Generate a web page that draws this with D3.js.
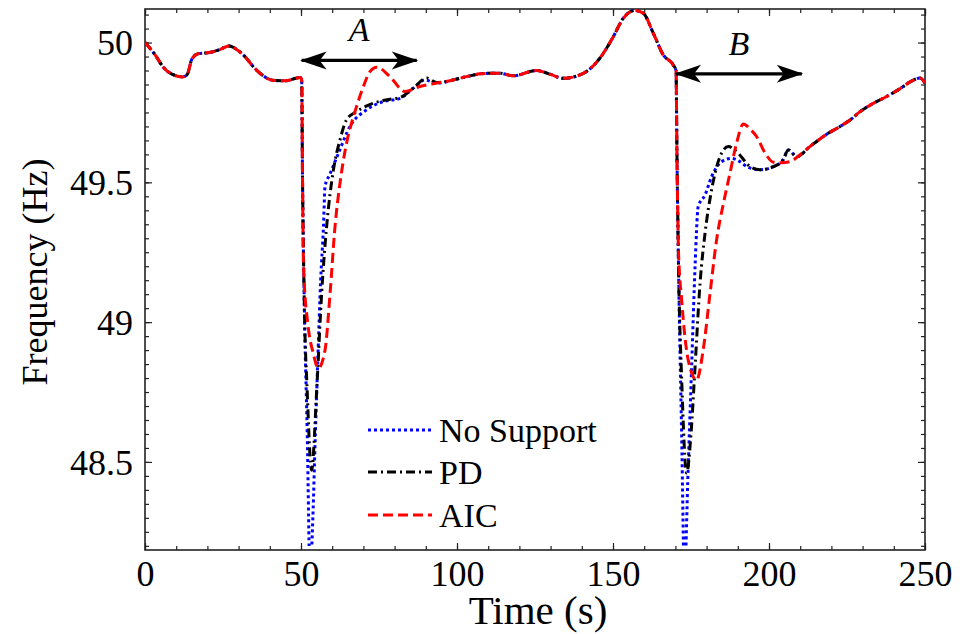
<!DOCTYPE html>
<html>
<head>
<meta charset="utf-8">
<script src="https://cdn.jsdelivr.net/npm/d3@7"></script>
<style>
  html, body { margin: 0; padding: 0; background: #fff; }
  svg text { font-family: "Liberation Serif", "Times New Roman", Times, serif !important; fill: #000; }
</style>
</head>
<body>
<div id="chart"></div>
<script>
// time (s), frequency (Hz)
const commonStart = [
  [0, 50.0], [3, 49.96], [6, 49.91], [9, 49.885], [12, 49.877], [13.5, 49.885],
  [15, 49.94], [17, 49.96], [21, 49.965], [24, 49.975], [27, 49.988], [29, 49.978],
  [32, 49.95], [35, 49.91], [38, 49.88], [41, 49.865], [45, 49.863], [49.7, 49.875], [50.2, 49.87]
];
const commonMiddle = [
  [98.8, 49.866], [103, 49.878], [107.4, 49.888], [110, 49.89], [113.8, 49.89], [118, 49.881],
  [125.5, 49.9], [130, 49.886], [134, 49.872], [140.5, 49.89], [145.8, 49.944], [150.1, 50.021],
  [153.3, 50.087], [157, 50.115], [159.7, 50.105], [162.9, 50.034], [166.1, 49.956],
  [169.3, 49.92], [170.2, 49.90]
];
const commonEnd = [
  [213.1, 49.628], [218.5, 49.672], [222.8, 49.70], [226, 49.723], [229.2, 49.753],
  [233, 49.78], [237.7, 49.807], [242, 49.835], [246.3, 49.866], [248.4, 49.873], [250, 49.855]
];

const noSupportA = [
  [50.5, 49.5], [51, 49.1], [52, 48.6], [52.9, 48.1], [53.8, 48.3], [54.6, 48.6], [55.4, 48.87],
  [56.3, 49.15], [57.2, 49.34], [57.7, 49.485], [59.3, 49.53], [62, 49.604], [65.7, 49.70],
  [71.1, 49.76], [76.4, 49.789], [81.7, 49.80], [86, 49.837], [89.7, 49.866], [93.5, 49.855]
];
const pdA = [
  [50.5, 49.5], [51, 49.1], [52, 48.75], [53.4, 48.47], [55, 48.75], [56.6, 49.1], [58.2, 49.34],
  [60.4, 49.545], [62.5, 49.652], [64.6, 49.724], [67.8, 49.753], [73.2, 49.783], [78.5, 49.797],
  [81.7, 49.803], [86, 49.837], [90.3, 49.873], [93.5, 49.857]
];
const aicA = [
  [50.5, 49.5], [50.8, 49.2], [52.3, 48.984], [53.9, 48.89], [55.5, 48.835], [57.7, 48.90],
  [59.3, 49.10], [60.9, 49.342], [62.5, 49.497], [64.6, 49.64], [66.2, 49.712], [67.8, 49.771],
  [70, 49.843], [72.1, 49.896], [74.3, 49.912], [78.5, 49.878], [83.3, 49.825], [88.1, 49.843],
  [93.5, 49.855]
];

const noSupportB = [
  [170.5, 49.6], [171, 49.2], [172, 48.6], [172.9, 48.1], [174.1, 48.483], [175.2, 48.84],
  [176.3, 49.198], [177.3, 49.413], [179.5, 49.455], [181.6, 49.52], [184.8, 49.574], [188, 49.586],
  [190.7, 49.574], [193, 49.556], [197.1, 49.545], [201.4, 49.556], [204.5, 49.58], [206.2, 49.616],
  [208.9, 49.592]
];
const pdB = [
  [170.5, 49.6], [171, 49.2], [172, 48.8], [173.6, 48.46], [175, 48.6], [176.3, 48.84],
  [177.9, 49.139], [179.5, 49.318], [181.6, 49.473], [184.3, 49.592], [187, 49.628], [189.6, 49.61],
  [194, 49.556], [197.1, 49.545], [201.4, 49.556], [204.5, 49.58], [206.2, 49.616], [208.9, 49.592]
];
const aicB = [
  [170.5, 49.6], [171, 49.25], [172, 49.08], [174.1, 48.865], [176.8, 48.793], [178.9, 48.90],
  [181.1, 49.103], [183.2, 49.294], [185.4, 49.425], [187.5, 49.533], [189.6, 49.64], [191.8, 49.709],
  [194, 49.69], [196, 49.664], [199, 49.6], [201.4, 49.572], [204, 49.57], [206.7, 49.574],
  [209.9, 49.598]
];

const seriesNames = ["No Support", "PD", "AIC"];
const xTicks = [0, 50, 100, 150, 200, 250];
const yTicks = [48.5, 49, 49.5, 50];
// annotation arrows: [t0, t1, f, label]
const arrows = [
  [50.2, 87.1, 49.936, "A"],
  [170.2, 210.5, 49.888, "B"]
];

class FrequencyChart {
  constructor(config) {
    this.config = {
      parentElement: config.parentElement,
      containerWidth: 960,
      containerHeight: 634,
      left: 145, right: 925, top: 9, bottom: 550,
      colors: ["#0000ff", "#000000", "#ff0000"],
      dashes: ["3,3", "9,4,2,4", "10,5"]
    };
    this.series = [
      commonStart.concat(noSupportA, commonMiddle, noSupportB, commonEnd),
      commonStart.concat(pdA, commonMiddle, pdB, commonEnd),
      commonStart.concat(aicA, commonMiddle, aicB, commonEnd)
    ];
    this.initVis();
  }

  initVis() {
    const vis = this;
    vis.svg = d3.select(vis.config.parentElement)
      .append("svg")
      .attr("width", vis.config.containerWidth)
      .attr("height", vis.config.containerHeight);

    vis.x = d3.scaleLinear().domain([0, 250]).range([vis.config.left, vis.config.right]);
    vis.y = d3.scaleLinear().domain([48.185, 50.12]).range([vis.config.bottom, vis.config.top]);

    vis.drawAxes();
    vis.drawLines();
    vis.drawArrows();
    vis.drawLegend();
    vis.addLabels();
  }

  drawAxes() {
    const vis = this;
    const c = vis.config;
    const minorX = d3.range(0, 251, 10);
    const minorY = d3.range(48.2, 50.12, 0.05);

    const addAxis = (axis, tf) => {
      const g = vis.svg.append("g")
        .attr("transform", tf)
        .call(axis);
      g.select(".domain").remove();
      g.selectAll("line").attr("stroke", "#222").attr("stroke-width", 1.2);
      return g;
    };

    addAxis(d3.axisBottom(vis.x).tickValues(minorX).tickSize(-4).tickFormat(""), `translate(0,${c.bottom})`);
    addAxis(d3.axisTop(vis.x).tickValues(minorX).tickSize(-4).tickFormat(""), `translate(0,${c.top})`);
    addAxis(d3.axisLeft(vis.y).tickValues(minorY).tickSize(-4).tickFormat(""), `translate(${c.left},0)`);
    addAxis(d3.axisRight(vis.y).tickValues(minorY).tickSize(-4).tickFormat(""), `translate(${c.right},0)`);

    const xb = addAxis(d3.axisBottom(vis.x).tickValues(xTicks).tickSize(-7).tickPadding(14)
      .tickFormat(d3.format("d")), `translate(0,${c.bottom})`);
    addAxis(d3.axisTop(vis.x).tickValues(xTicks).tickSize(-7).tickFormat(""), `translate(0,${c.top})`);
    const yl = addAxis(d3.axisLeft(vis.y).tickValues(yTicks).tickSize(-7).tickPadding(12)
      .tickFormat(d => d), `translate(${c.left},0)`);
    addAxis(d3.axisRight(vis.y).tickValues(yTicks).tickSize(-7).tickFormat(""), `translate(${c.right},0)`);

    xb.selectAll("text")
      .attr("font-size", 36)
      .attr("dy", "0.62em");
    yl.selectAll("text")
      .attr("font-size", 36)
      .attr("dy", "0.34em");

    vis.svg.append("rect")
      .attr("x", c.left)
      .attr("y", c.top)
      .attr("width", c.right - c.left)
      .attr("height", c.bottom - c.top)
      .attr("fill", "none")
      .attr("stroke", "#222")
      .attr("stroke-width", 1.6);
  }

  drawLines() {
    const vis = this;
    const c = vis.config;

    vis.svg.append("clipPath")
      .attr("id", "plot-clip")
      .append("rect")
      .attr("x", c.left)
      .attr("y", c.top)
      .attr("width", c.right - c.left)
      .attr("height", c.bottom - c.top - 4);

    const line = d3.line()
      .x(d => vis.x(d[0]))
      .y(d => vis.y(d[1]))
      .curve(d3.curveMonotoneX);

    vis.svg.append("g")
      .attr("clip-path", "url(#plot-clip)")
      .selectAll("path")
      .data(vis.series)
      .join("path")
      .attr("d", line)
      .attr("fill", "none")
      .attr("stroke", (d, i) => c.colors[i])
      .attr("stroke-width", 3)
      .attr("stroke-dasharray", (d, i) => c.dashes[i]);
  }

  drawArrows() {
    const vis = this;

    vis.svg.append("defs")
      .append("marker")
      .attr("id", "head")
      .attr("markerUnits", "userSpaceOnUse")
      .attr("viewBox", "-28 -11 30 22")
      .attr("refX", 0)
      .attr("refY", 0)
      .attr("markerWidth", 30)
      .attr("markerHeight", 22)
      .attr("orient", "auto-start-reverse")
      .append("path")
      .attr("d", "M1.5,0 L-25,-9 L-18,0 L-25,9 Z")
      .attr("fill", "#000");

    vis.svg.selectAll(".arrow")
      .data(arrows)
      .join("line")
      .attr("class", "arrow")
      .attr("x1", d => vis.x(d[0]))
      .attr("x2", d => vis.x(d[1]))
      .attr("y1", d => vis.y(d[2]))
      .attr("y2", d => vis.y(d[2]))
      .attr("stroke", "#000")
      .attr("stroke-width", 3.2)
      .attr("marker-start", "url(#head)")
      .attr("marker-end", "url(#head)");

    vis.svg.selectAll(".arrow-label")
      .data(arrows)
      .join("text")
      .attr("class", "arrow-label")
      .attr("x", d => vis.x((d[0] + d[1]) / 2))
      .attr("y", d => vis.y(d[2]) - 19)
      .attr("text-anchor", "middle")
      .attr("font-style", "italic")
      .attr("font-size", 34)
      .text(d => d[3]);
  }

  drawLegend() {
    const vis = this;
    const c = vis.config;
    const rowY = [430, 472, 515];

    const rows = vis.svg.append("g")
      .selectAll("g")
      .data(seriesNames)
      .join("g")
      .attr("transform", (d, i) => `translate(368,${rowY[i]})`);

    rows.append("line")
      .attr("x1", 0)
      .attr("x2", 64)
      .attr("stroke", (d, i) => c.colors[i])
      .attr("stroke-width", 3)
      .attr("stroke-dasharray", (d, i) => c.dashes[i]);

    rows.append("text")
      .attr("x", 71)
      .attr("y", 12)
      .attr("font-size", 34)
      .text(d => d);
  }

  addLabels() {
    const vis = this;

    vis.svg.append("text")
      .attr("x", 538)
      .attr("y", 624)
      .attr("text-anchor", "middle")
      .attr("font-size", 41)
      .text("Time (s)");

    vis.svg.append("text")
      .attr("transform", "translate(47,272) rotate(-90)")
      .attr("text-anchor", "middle")
      .attr("font-size", 36)
      .text("Frequency (Hz)");
  }
}

new FrequencyChart({ parentElement: "#chart" });
</script>
</body>
</html>
